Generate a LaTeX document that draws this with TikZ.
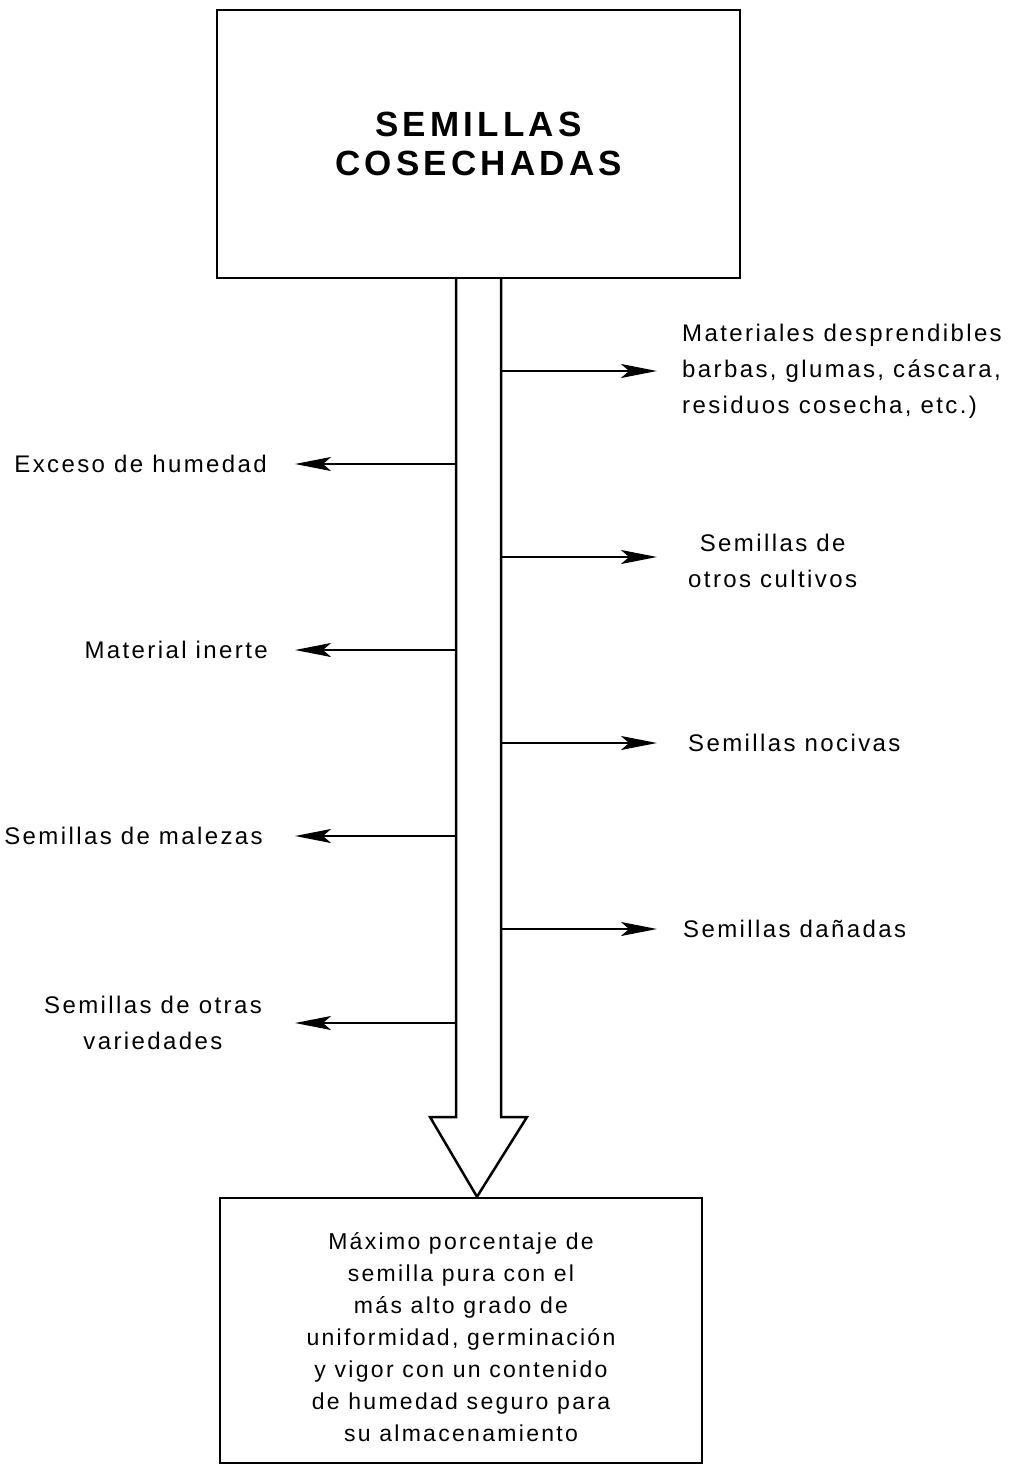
\documentclass[tikz,border=0pt]{standalone}
\usepackage{fontspec}
\setmainfont{Liberation Sans}[LetterSpace=10]
\usetikzlibrary{arrows.meta}
\begin{document}
\begin{tikzpicture}[x=1pt,y=-1pt,
  boxnode/.style={draw,line width=2.5pt,inner sep=0pt},
  sidetext/.style={inner sep=0pt,font=\fontsize{24}{36}\selectfont},
  sidearr/.style={line width=2pt,-{Stealth[length=36pt,width=14pt,inset=8pt]}},
  shaftline/.style={line width=2.5pt,line join=miter}]
\useasboundingbox (0,0) rectangle (1024,1466);
\fill[white] (0,0) rectangle (1024,1466);

% boxes
\node[boxnode,minimum width=523pt,minimum height=268pt,align=center,
  font=\fontsize{35}{39}\selectfont\bfseries\addfontfeatures{LetterSpace=12}] (top) at (478.5,144)
  {SEMILLAS\\COSECHADAS};
\node[boxnode,minimum width=482pt,minimum height=265pt] (bot) at (461,1330.5) {};
\node[align=center,inner sep=0pt,font=\fontsize{23}{32}\selectfont] (bottxt) at (461,1337)
  {Máximo porcentaje de\\semilla pura con el\\más alto grado de\\uniformidad, germinación\\y vigor con un contenido\\de humedad seguro para\\su almacenamiento};

% big hollow arrow from top box to bottom box
\coordinate (sl) at (456,278);
\coordinate (sr) at (501,278);
\draw[shaftline] (sl) -- (456,1117) -- (430,1117) -- (bot.north -| 477,0) -- (527,1117) -- (501,1117) -- (sr);

% shaft start points
\coordinate (l1) at (456,464);
\coordinate (l2) at (456,650);
\coordinate (l3) at (456,836);
\coordinate (l4) at (456,1023);
\coordinate (r1) at (501,371);
\coordinate (r2) at (501,557);
\coordinate (r3) at (501,743);
\coordinate (r4) at (501,929);

% left texts
\node[sidetext,anchor=east] (t1) at (267,464) {Exceso de humedad};
\node[sidetext,anchor=east] (t2) at (268,650) {Material inerte};
\node[sidetext,anchor=east] (t3) at (263,836) {Semillas de malezas};
\node[sidetext,anchor=east,align=center] (t4) at (262,1023) {Semillas de otras\\variedades};

% right texts
\node[sidetext,anchor=west,align=left] (u1) at (682,371) {Materiales desprendibles\\barbas, glumas, cáscara,\\residuos cosecha, etc.)};
\node[sidetext,anchor=west,align=center] (u2) at (688,561) {Semillas de\\otros cultivos};
\node[sidetext,anchor=west] (u3) at (688,743) {Semillas nocivas};
\node[sidetext,anchor=west] (u4) at (683,929) {Semillas dañadas};

% side arrows
\draw[sidearr,shorten >=28pt] (l1) -- (l1 -| t1.east);
\draw[sidearr,shorten >=27pt] (l2) -- (l2 -| t2.east);
\draw[sidearr,shorten >=32pt] (l3) -- (l3 -| t3.east);
\draw[sidearr,shorten >=33pt] (l4) -- (l4 -| t4.east);
\draw[sidearr,shorten >=25pt] (r1) -- (r1 -| u1.west);
\draw[sidearr,shorten >=31pt] (r2) -- (r2 -| u2.west);
\draw[sidearr,shorten >=31pt] (r3) -- (r3 -| u3.west);
\draw[sidearr,shorten >=26pt] (r4) -- (r4 -| u4.west);
\end{tikzpicture}
\end{document}
